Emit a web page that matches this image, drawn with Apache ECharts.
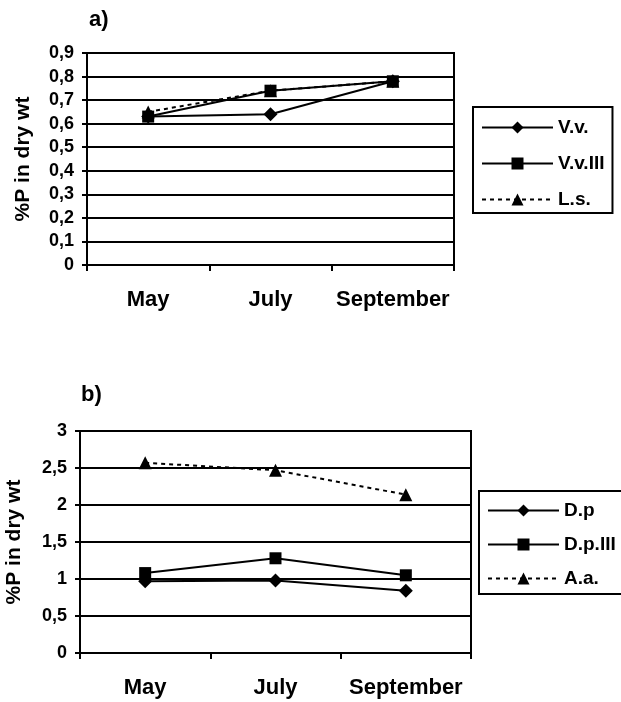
<!DOCTYPE html>
<html><head><meta charset="utf-8">
<script src="https://cdn.jsdelivr.net/npm/echarts@6/dist/echarts.min.js"></script>
<style>html,body{margin:0;padding:0;background:#fff}#c{width:621px;height:702px}</style>
</head><body><div id="c"></div>
<script>
const categories = ['May', 'July', 'September'];
const seriesNamesA = ['V.v.', 'V.v.III', 'L.s.'];
const vv = [0.63, 0.64, 0.78];
const vvIII = [0.63, 0.74, 0.78];
const ls = [0.65, 0.74, 0.78];
const seriesNamesB = ['D.p', 'D.p.III', 'A.a.'];
const dp = [0.97, 0.98, 0.84];
const dpIII = [1.08, 1.28, 1.05];
const aa = [2.57, 2.47, 2.14];
const yTitle = '%P in dry wt';

const FONT = '"Liberation Sans", Arial, sans-serif';
const fmt = v => String(+v.toFixed(2)).replace('.', ',');
const txt = {color:'#000', fontFamily:FONT, fontWeight:'bold'};

function xAxis(gi){
  return {type:'category', gridIndex:gi, data:categories, boundaryGap:true,
    axisLine:{lineStyle:{color:'#000', width:2}},
    axisTick:{show:true, length:6, lineStyle:{color:'#000', width:2}},
    axisLabel:Object.assign({fontSize:22, margin:24, interval:0}, txt),
    splitLine:{show:false}};
}
function yAxis(gi, max, interval, gap, margin){
  return {type:'value', gridIndex:gi, min:0, max:max, interval:interval,
    name:yTitle, nameLocation:'middle', nameRotate:90, nameGap:gap,
    nameTextStyle:Object.assign({fontSize:21}, txt),
    axisLine:{show:true, lineStyle:{color:'#000', width:2}},
    axisTick:{show:true, length:5, lineStyle:{color:'#000', width:2}},
    axisLabel:Object.assign({fontSize:18, margin:margin, formatter:fmt}, txt),
    splitLine:{show:true, lineStyle:{color:'#000', width:2}}};
}
function line(name, data, gi, symbol, size, dashed){
  return {type:'line', name:name, data:data, xAxisIndex:gi, yAxisIndex:gi,
    symbol:symbol, symbolSize:size, showSymbol:true,
    lineStyle:{color:'#000', width:2, type: dashed ? [4,4] : 'solid'},
    itemStyle:{color:'#000'}, animation:false, z:5};
}
function legend(names, left, top, pad, gap){
  return {data:names, orient:'vertical', left:left, top:top,
    itemWidth:71, itemHeight:15, itemGap:gap, padding:pad,
    borderColor:'#000', borderWidth:2, backgroundColor:'#fff',
    textStyle:Object.assign({fontSize:19}, txt), selectedMode:false};
}

const chart = echarts.init(document.getElementById('c'), null, {renderer:'canvas'});
chart.setOption({
  backgroundColor:'#fff',
  animation:false,
  title:[
    {text:'a)', left:84, top:4, textStyle:Object.assign({fontSize:22}, txt)},
    {text:'b)', left:76, top:379, textStyle:Object.assign({fontSize:22}, txt)}
  ],
  grid:[
    {left:87, top:53, width:367, height:212, show:true, borderColor:'#000', borderWidth:2, outerBoundsMode:'none', containLabel:false},
    {left:80, top:431, width:391, height:222, show:true, borderColor:'#000', borderWidth:2, outerBoundsMode:'none', containLabel:false}
  ],
  xAxis:[xAxis(0), xAxis(1)],
  yAxis:[yAxis(0, 0.9, 0.1, 53, 13), yAxis(1, 3, 0.5, 55, 13)],
  legend:[
    legend(seriesNamesA, 473, 107, [11, 8, 4, 8], 17),
    legend(seriesNamesB, 479, 491, [10, 10, 6, 8], 15)
  ],
  series:[
    line(seriesNamesA[0], vv, 0, 'diamond', 14, false),
    line(seriesNamesA[1], vvIII, 0, 'rect', 12, false),
    line(seriesNamesA[2], ls, 0, 'triangle', 13, true),
    line(seriesNamesB[0], dp, 1, 'diamond', 14, false),
    line(seriesNamesB[1], dpIII, 1, 'rect', 12, false),
    line(seriesNamesB[2], aa, 1, 'triangle', 13, true)
  ]
});
</script></body></html>
